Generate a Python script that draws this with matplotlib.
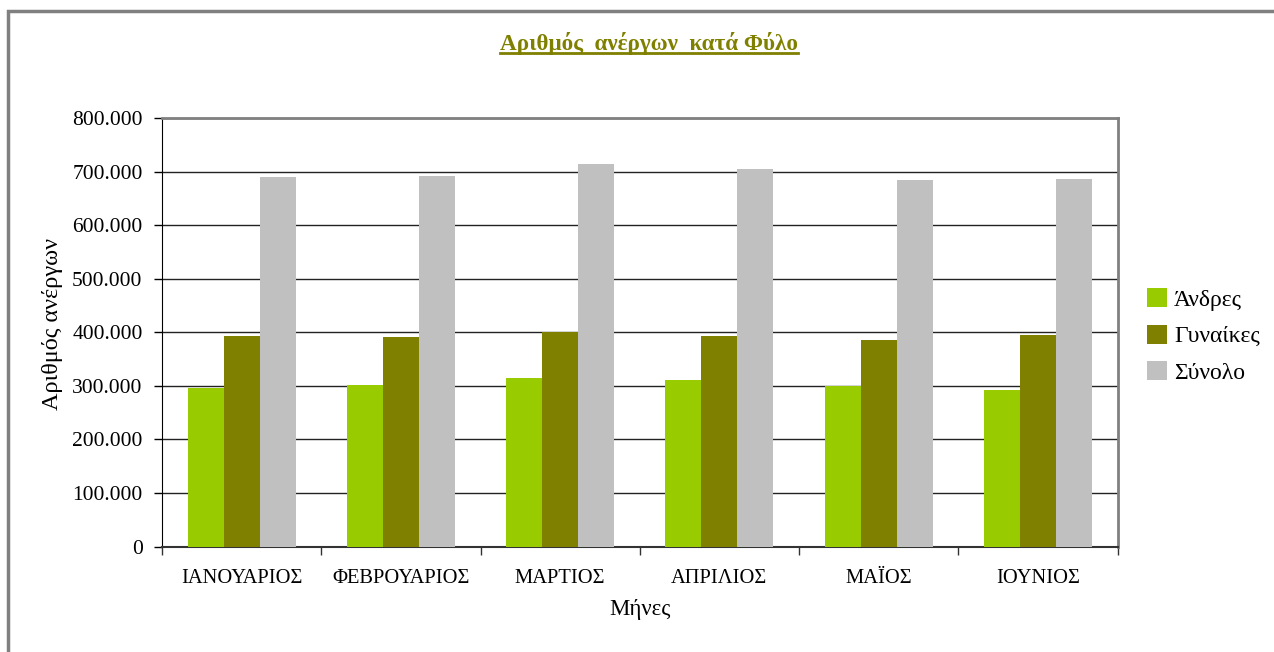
import numpy as np
import matplotlib.pyplot as plt
from matplotlib.patches import Rectangle
from matplotlib.lines import Line2D
from matplotlib.ticker import FuncFormatter, FixedLocator

plt.rcParams['font.family'] = ['Liberation Serif', 'DejaVu Serif']

# δεδομένα
months = ['ΙΑΝΟΥΑΡΙΟΣ', 'ΦΕΒΡΟΥΑΡΙΟΣ', 'ΜΑΡΤΙΟΣ', 'ΑΠΡΙΛΙΟΣ', 'ΜΑΪΟΣ', 'ΙΟΥΝΙΟΣ']
men = [296000, 302000, 315000, 311000, 300000, 292500]
women = [393000, 391600, 401000, 393000, 386000, 395000]
total = [690600, 692500, 715000, 705600, 685000, 687000]
series_names = ['Άνδρες', 'Γυναίκες', 'Σύνολο']
colors = ['#99cc00', '#808000', '#c0c0c0']

W, H = 1274, 652
fig = plt.figure(figsize=(W / 100, H / 100), dpi=100)
ax = fig.add_axes([162 / W, 1 - 546.5 / H, (1117.5 - 162) / W, (546.5 - 118) / H])

x = np.arange(len(months))
bw = 0.226
for i, (vals, name, c) in enumerate(zip([men, women, total], series_names, colors)):
    ax.bar(x + (i - 1) * bw, vals, width=bw, color=c, label=name, zorder=3)

ax.set_xlim(-0.5, len(months) - 0.5)
ax.set_ylim(0, 800000)
ax.set_yticks(np.arange(0, 800001, 100000))
ax.yaxis.set_major_formatter(FuncFormatter(lambda v, p: f'{int(v):,}'.replace(',', '.')))
ax.set_xticks(x)
ax.set_xticklabels(months)
ax.xaxis.set_minor_locator(FixedLocator(np.arange(-0.5, len(months), 1)))
ax.tick_params(axis='x', which='major', length=0, pad=16, labelsize=14.8)
ax.tick_params(axis='x', which='minor', length=6, width=1, color='#333333')
ax.tick_params(axis='y', length=6, width=1, pad=8, labelsize=15.5)

ax.grid(axis='y', color='#222222', linewidth=1, zorder=0)
ax.set_axisbelow(True)
for s in ['top', 'right']:
    ax.spines[s].set_color('#808080')
    ax.spines[s].set_linewidth(2)
ax.spines['left'].set_color('black')
ax.spines['bottom'].set_color('#333333')
ax.spines['bottom'].set_linewidth(1.5)

# τίτλοι αξόνων
fig.text(53 / W, 1 - 323.5 / H, 'Αριθμός ανέργων', rotation=90, ha='center', va='center', fontsize=17.5)
ax.set_xlabel('Μήνες', fontsize=16.5)
ax.xaxis.set_label_coords(0.5, -0.122)

# τίτλος με υπογράμμιση
title = fig.text(648.5 / W, 1 - 50 / H, 'Αριθμός  ανέργων  κατά Φύλο', ha='center', va='baseline',
                 fontsize=16.7, fontweight='bold', color='#808000')
fig.canvas.draw()
bb = title.get_window_extent()
fig.add_artist(Line2D([bb.x0 / W, bb.x1 / W], [1 - 52.5 / H, 1 - 52.5 / H],
                      transform=fig.transFigure, color='#808000', linewidth=2))

# υπόμνημα
fig.legend(loc='center left', bbox_to_anchor=(1147 / W, 1 - 336 / H), frameon=False,
           fontsize=17, handlelength=0.85, handleheight=0.85, handletextpad=0.3,
           labelspacing=0.6, borderpad=0, borderaxespad=0)

# εξωτερικό πλαίσιο
fig.add_artist(Rectangle((8 / W, -0.2), 1.5, 1.2 - 11 / H, transform=fig.transFigure,
                         fill=False, edgecolor='#808080', linewidth=2.5, clip_on=False))

fig.savefig('out.png', dpi=100)
